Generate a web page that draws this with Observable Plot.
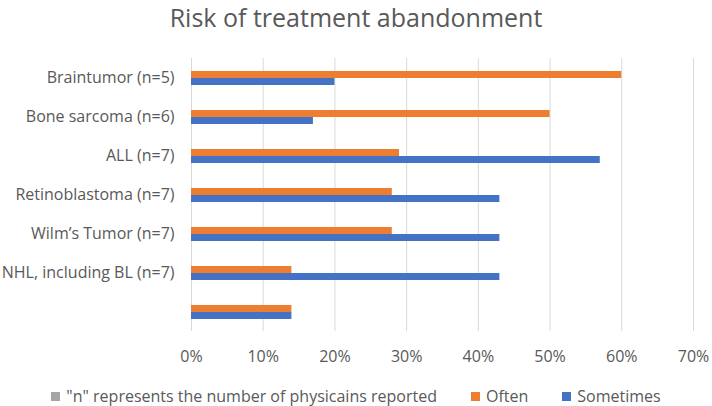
<!DOCTYPE html>
<html>
<head>
<meta charset="utf-8">
<script src="https://cdn.jsdelivr.net/npm/d3@7"></script>
<script src="https://cdn.jsdelivr.net/npm/@observablehq/plot@0.6"></script>
<style>
  body { margin: 0; background: #fff; font-family: "Open Sans", sans-serif; color: #595959; }
  #wrap { width: 712px; height: 406px; position: relative; overflow: hidden; }
  #title { height: 40px; padding-top: 0px; box-sizing: border-box; line-height: normal; text-align: center; font-size: 25px; color: #595959; }
  #legend { display: flex; justify-content: center; align-items: center; gap: 34px; font-size: 16px; color: #595959; margin-top: 15px; }
  #legend span.sw { display: inline-block; width: 9px; height: 9px; margin-right: 6px; }
  #legend div { display: flex; align-items: center; }
  svg { display: block; }
</style>
</head>
<body>
<div id="wrap">
  <div id="title">Risk of treatment abandonment</div>
  <div id="chart"></div>
  <div id="legend"></div>
</div>
<script>
const categories = ["Braintumor (n=5)", "Bone sarcoma (n=6)", "ALL (n=7)", "Retinoblastoma (n=7)", "Wilm’s Tumor (n=7)", "NHL, including BL (n=7)", ""];
const often = [60, 50, 29, 28, 28, 14, 14];
const sometimes = [20, 17, 57, 43, 43, 43, 14];
const seriesNames = ["Often", "Sometimes"];
const seriesColors = ["#ED7D31", "#4472C4"];
const noteLabel = "\"n\" represents the number of physicains reported";
const noteColor = "#A5A5A5";
const xTicks = [0, 10, 20, 30, 40, 50, 60, 70];

const rows = [];
categories.forEach((c, i) => {
  rows.push({category: c, series: "Often", value: often[i] / 100});
  rows.push({category: c, series: "Sometimes", value: sometimes[i] / 100});
});

const chart = Plot.plot({
  width: 712,
  height: 330,
  marginLeft: 191,
  marginRight: 19,
  marginTop: 16,
  marginBottom: 38,
  style: {fontFamily: "Open Sans, sans-serif", fontSize: "16px", color: "#595959", background: "#fff"},
  x: {domain: [0, 0.7], ticks: xTicks.map(d => d / 100), tickFormat: d3.format(".0%"), tickSize: 0, tickPadding: 19, label: null},
  y: {domain: seriesNames, axis: null, paddingInner: 0, paddingOuter: 1.46},
  fy: {domain: categories, padding: 0, tickSize: 0, tickPadding: 17, label: null},
  color: {domain: seriesNames, range: seriesColors},
  marks: [
    Plot.gridX(xTicks.map(d => d / 100), {stroke: "#d9d9d9", strokeOpacity: 1, strokeWidth: 1}),
    Plot.barX(rows, {x: "value", y: "series", fy: "category", fill: "series"})
  ]
});
document.getElementById("chart").append(chart);

const legend = document.getElementById("legend");
[[noteLabel, noteColor], [seriesNames[0], seriesColors[0]], [seriesNames[1], seriesColors[1]]].forEach(([t, c]) => {
  const d = document.createElement("div");
  const s = document.createElement("span");
  s.className = "sw"; s.style.background = c;
  d.append(s, document.createTextNode(t));
  legend.append(d);
});
</script>
</body>
</html>
